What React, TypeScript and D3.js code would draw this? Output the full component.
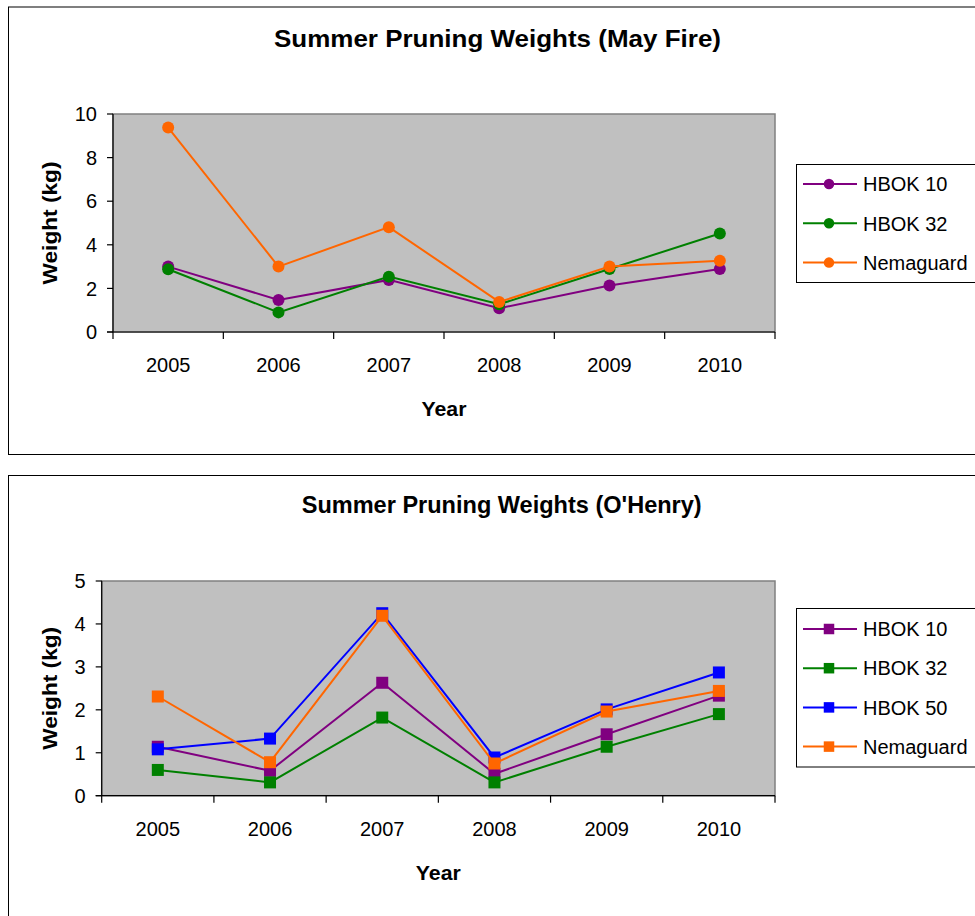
import React from "react";
import * as d3 from "d3";

const years = ["2005", "2006", "2007", "2008", "2009", "2010"];

// May Fire
const mayHbok10 = [3.0, 1.47, 2.39, 1.09, 2.13, 2.89];
const mayHbok32 = [2.88, 0.9, 2.54, 1.27, 2.89, 4.52];
const mayNemaguard = [9.38, 3.0, 4.81, 1.38, 3.0, 3.27];
const mayTicks = [0, 2, 4, 6, 8, 10];

// O'Henry
const ohHbok10 = [1.14, 0.58, 2.63, 0.51, 1.43, 2.33];
const ohHbok32 = [0.6, 0.31, 1.82, 0.31, 1.14, 1.9];
const ohHbok50 = [1.08, 1.33, 4.25, 0.89, 2.01, 2.87];
const ohNemaguard = [2.31, 0.78, 4.19, 0.75, 1.96, 2.44];
const ohTicks = [0, 1, 2, 3, 4, 5];

const PURPLE = "#800080";
const GREEN = "#008000";
const BLUE = "#0000FF";
const ORANGE = "#FF6600";

type Series = { name: string; values: number[]; color: string };

const FONT = "'Liberation Sans', Arial, sans-serif";

function Chart(props: {
  frameTop: number;
  frameBottom: number;
  title: string;
  titleX: number;
  titleY: number;
  titleLen: number;
  left: number;
  right: number;
  top: number;
  bottom: number;
  ticks: number[];
  series: Series[];
  marker: "circle" | "square";
  legendTop: number;
  legendH: number;
  legendFirst: number;
  legendStep: number;
}) {
  const p = props;
  const x = d3.scaleBand<string>().domain(years).range([p.left, p.right]);
  const y = d3
    .scaleLinear()
    .domain([p.ticks[0], p.ticks[p.ticks.length - 1]])
    .range([p.bottom, p.top]);
  const cx = (c: string) => (x(c) as number) + x.bandwidth() / 2;
  const line = d3
    .line<number>()
    .x((_, i) => cx(years[i]))
    .y((v) => y(v));
  const boundaries = years.map((c) => x(c) as number).concat([p.right]);
  const mk = (key: string, px: number, py: number, color: string, s: number) =>
    p.marker === "circle" ? (
      <circle key={key} cx={px} cy={py} r={s / 2} fill={color} />
    ) : (
      <rect key={key} x={px - s / 2} y={py - s / 2} width={s} height={s} fill={color} />
    );
  const midY = (p.top + p.bottom) / 2;
  return (
    <g fontFamily={FONT}>
      <rect
        x={8.5}
        y={p.frameTop + 0.5}
        width={990}
        height={p.frameBottom - p.frameTop}
        fill="#fff"
        stroke="#000"
        strokeWidth={1}
      />
      <text
        x={p.titleX}
        y={p.titleY}
        textAnchor="middle"
        fontSize={24}
        fontWeight="bold"
        textLength={p.titleLen}
        lengthAdjust="spacingAndGlyphs"
      >
        {p.title}
      </text>
      <rect
        x={p.left}
        y={p.top}
        width={p.right - p.left}
        height={p.bottom - p.top}
        fill="#C0C0C0"
        stroke="#808080"
        strokeWidth={1.5}
      />
      <line x1={p.left} x2={p.left} y1={p.top} y2={p.bottom} stroke="#000" strokeWidth={1.2} />
      <line x1={p.left - 6} x2={p.right} y1={p.bottom} y2={p.bottom} stroke="#000" strokeWidth={1.2} />
      {p.ticks.map((t) => (
        <g key={"yt" + t}>
          <line x1={p.left - 6} x2={p.left} y1={y(t)} y2={y(t)} stroke="#000" strokeWidth={1.2} />
          <text x={p.left - 16} y={y(t)} dy="0.36em" textAnchor="end" fontSize={20}>
            {t}
          </text>
        </g>
      ))}
      {boundaries.map((b, i) => (
        <line key={"xt" + i} x1={b} x2={b} y1={p.bottom} y2={p.bottom + 7} stroke="#000" strokeWidth={1.2} />
      ))}
      {years.map((c) => (
        <text key={"xl" + c} x={cx(c)} y={p.bottom + 40} textAnchor="middle" fontSize={20}>
          {c}
        </text>
      ))}
      <text
        x={(p.left + p.right) / 2}
        y={p.bottom + 84}
        textAnchor="middle"
        fontSize={20}
        fontWeight="bold"
        textLength={45}
        lengthAdjust="spacingAndGlyphs"
      >
        Year
      </text>
      <text
        transform={`translate(57,${midY}) rotate(-90)`}
        textAnchor="middle"
        fontSize={21}
        fontWeight="bold"
        textLength={123}
        lengthAdjust="spacingAndGlyphs"
      >
        Weight (kg)
      </text>
      {p.series.map((s) => (
        <g key={s.name}>
          <path d={line(s.values) || ""} fill="none" stroke={s.color} strokeWidth={2} />
          {s.values.map((v, i) => mk(s.name + i, cx(years[i]), y(v), s.color, 12))}
        </g>
      ))}
      <rect
        x={796.5}
        y={p.legendTop + 0.5}
        width={200}
        height={p.legendH}
        fill="#fff"
        stroke="#000"
        strokeWidth={1}
      />
      {p.series.map((s, i) => {
        const ly = p.legendFirst + i * p.legendStep;
        return (
          <g key={"lg" + s.name}>
            <line x1={803} x2={857} y1={ly} y2={ly} stroke={s.color} strokeWidth={2} />
            {mk("lm" + s.name, 829, ly, s.color, 10.5)}
            <text x={863} y={ly} dy="0.36em" fontSize={20}>
              {s.name}
            </text>
          </g>
        );
      })}
    </g>
  );
}

export default function App() {
  const maySeries: Series[] = [
    { name: "HBOK 10", values: mayHbok10, color: PURPLE },
    { name: "HBOK 32", values: mayHbok32, color: GREEN },
    { name: "Nemaguard", values: mayNemaguard, color: ORANGE },
  ];
  const ohSeries: Series[] = [
    { name: "HBOK 10", values: ohHbok10, color: PURPLE },
    { name: "HBOK 32", values: ohHbok32, color: GREEN },
    { name: "HBOK 50", values: ohHbok50, color: BLUE },
    { name: "Nemaguard", values: ohNemaguard, color: ORANGE },
  ];
  return (
    <svg
      width={975}
      height={916}
      style={{ position: "absolute", left: 0, top: 0, display: "block", background: "#fff" }}
    >
      <Chart
        frameTop={6.5}
        frameBottom={454}
        title="Summer Pruning Weights (May Fire)"
        titleX={497.5}
        titleY={46.5}
        titleLen={447}
        left={113}
        right={775}
        top={114}
        bottom={332}
        ticks={mayTicks}
        series={maySeries}
        marker="circle"
        legendTop={164}
        legendH={118}
        legendFirst={184}
        legendStep={39.3}
      />
      <Chart
        frameTop={475}
        frameBottom={940}
        title="Summer Pruning Weights (O'Henry)"
        titleX={501.7}
        titleY={512.5}
        titleLen={400}
        left={101.7}
        right={775}
        top={581}
        bottom={795.7}
        ticks={ohTicks}
        series={ohSeries}
        marker="square"
        legendTop={608}
        legendH={158.5}
        legendFirst={629}
        legendStep={39.2}
      />
    </svg>
  );
}
